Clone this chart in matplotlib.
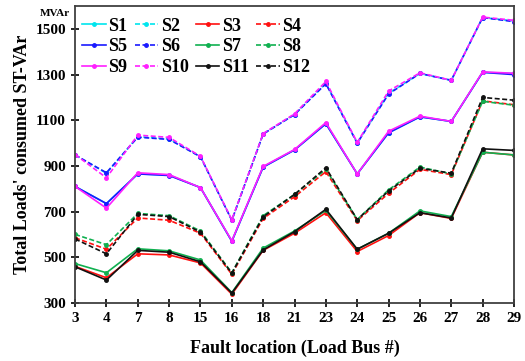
import matplotlib.pyplot as plt

plt.rcParams['font.family'] = ['Liberation Serif', 'DejaVu Serif']
plt.rcParams['font.weight'] = 'bold'

buses = ['3', '4', '7', '8', '15', '16', '18', '21', '23', '24', '25', '26', '27', '28', '29']

# upper groups
s1 = [810, 735, 865, 860, 805, 570, 895, 970, 1085, 865, 1045, 1115, 1095, 1310, 1305]
s5 = [810, 735, 865, 858, 805, 570, 895, 970, 1085, 865, 1045, 1115, 1095, 1310, 1300]
s9 = [810, 715, 870, 862, 805, 572, 898, 972, 1090, 865, 1052, 1118, 1095, 1312, 1306]
s2 = [948, 868, 1028, 1018, 940, 662, 1040, 1125, 1262, 1000, 1218, 1305, 1275, 1550, 1535]
s6 = [948, 870, 1026, 1016, 940, 662, 1040, 1125, 1260, 1000, 1215, 1305, 1275, 1550, 1532]
s10 = [950, 848, 1035, 1025, 942, 664, 1042, 1128, 1270, 1003, 1228, 1308, 1275, 1552, 1538]

# lower groups
s3 = [460, 410, 515, 510, 475, 338, 530, 605, 695, 525, 595, 695, 670, 960, 948]
s7 = [472, 432, 537, 528, 488, 345, 540, 615, 705, 535, 605, 703, 678, 960, 948]
s11 = [458, 400, 530, 522, 480, 343, 532, 612, 710, 535, 605, 695, 672, 975, 968]
s4 = [585, 535, 672, 662, 605, 425, 670, 765, 875, 660, 780, 885, 862, 1185, 1168]
s8 = [600, 555, 692, 682, 615, 432, 682, 775, 885, 665, 795, 895, 865, 1183, 1166]
s12 = [580, 515, 688, 678, 610, 430, 677, 775, 892, 665, 790, 890, 868, 1200, 1188]

series = [
    ('S1', s1, '#00e5ee', '-'), ('S2', s2, '#00e5ee', '--'),
    ('S3', s3, '#ff1010', '-'), ('S4', s4, '#ff1010', '--'),
    ('S5', s5, '#1a1aff', '-'), ('S6', s6, '#1a1aff', '--'),
    ('S7', s7, '#10b050', '-'), ('S8', s8, '#10b050', '--'),
    ('S9', s9, '#ff20ff', '-'), ('S10', s10, '#ff20ff', '--'),
    ('S11', s11, '#111111', '-'), ('S12', s12, '#111111', '--'),
]

fig = plt.figure(figsize=(5.25, 3.61), dpi=100)
ax = fig.add_axes([0.143, 0.161, 0.836, 0.822])

x = list(range(len(buses)))
handles = {}
for name, vals, col, ls in series:
    h, = ax.plot(x, vals, color=col, linestyle=ls, linewidth=1.2,
                 marker='o', markersize=2.5, label=name,
                 dashes=(3, 1.5) if ls == '--' else (None, None))
    handles[name] = h

# legend is filled row-wise in the picture
order = ['S1', 'S5', 'S9', 'S2', 'S6', 'S10', 'S3', 'S7', 'S11', 'S4', 'S8', 'S12']
ax.legend([handles[n] for n in order], order, ncol=4, loc='upper left',
          frameon=False, fontsize=13, handlelength=1.3, handletextpad=0.15,
          columnspacing=0.4, labelspacing=0.2, borderaxespad=0.0,
          bbox_to_anchor=(0.0, 0.985))

ax.set_xlim(0, len(buses) - 1)
ax.set_ylim(300, 1600)
ax.set_xticks(x)
ax.set_xticklabels(buses)
ax.set_yticks([300, 500, 700, 900, 1100, 1300, 1500])
ax.tick_params(direction='inout', length=6, width=1.2, labelsize=11)
for lab in ax.get_xticklabels() + ax.get_yticklabels():
    lab.set_fontweight('bold')
for sp in ax.spines.values():
    sp.set_color('#404040')
    sp.set_linewidth(1.3)

ax.set_xlabel('Fault location (Load Bus #)', fontsize=13, fontweight='bold', labelpad=11)
ax.set_ylabel("Total Loads' consumed ST-VAr", fontsize=13, fontweight='bold', labelpad=3)
fig.text(0.134, 0.975, 'MVAr', fontsize=8, fontweight='bold', ha='right', va='top')

fig.savefig('out.png', dpi=100)
